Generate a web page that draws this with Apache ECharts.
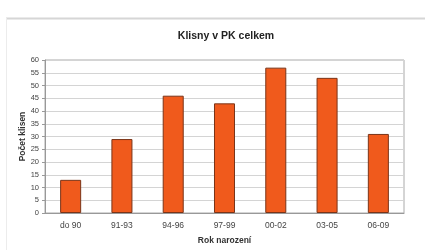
<!DOCTYPE html>
<html lang="cs">
<head>
  <meta charset="UTF-8">
  <title>Klisny v PK celkem</title>
  <script src="https://cdn.jsdelivr.net/npm/echarts@6/dist/echarts.min.js"></script>
  <style>
    body { margin: 0; padding: 0; background: #fff; }
    #chart { width: 425px; height: 250px; }
  </style>
</head>
<body>
<div id="chart"></div>
<script>
  // kategorie a hodnoty
  const categories = ['do 90', '91-93', '94-96', '97-99', '00-02', '03-05', '06-09'];
  const counts = [13, 29, 46, 43, 57, 53, 31];

  const chart = echarts.init(document.getElementById('chart'));

  const option = {
    animation: false,
    title: {
      text: 'Klisny v PK celkem',
      left: 221,
      top: 26,
      textAlign: 'center',
      textStyle: { fontFamily: 'Liberation Sans', fontSize: 10.5, fontWeight: 'bold', color: '#222' }
    },
    // ramecek okolo grafu
    graphic: [
      { type: 'line', shape: { x1: 6, y1: 18.5, x2: 425, y2: 18.5 }, style: { stroke: '#d6d6d6', lineWidth: 2 } },
      { type: 'line', shape: { x1: 6.5, y1: 18, x2: 6.5, y2: 250 }, style: { stroke: '#ececec', lineWidth: 1 } }
    ],
    grid: {
      left: 45, right: 21, top: 60, bottom: 36,
      show: true, borderColor: '#aaa', borderWidth: 1
    },
    xAxis: {
      type: 'category',
      data: categories,
      name: 'Rok narození',
      nameLocation: 'middle',
      nameGap: 23,
      nameTextStyle: { fontFamily: 'Liberation Sans', fontSize: 8.5, fontWeight: 'bold', color: '#333' },
      axisLine: { lineStyle: { color: '#999' } },
      axisTick: { show: false },
      axisLabel: { fontFamily: 'Liberation Sans', fontSize: 8.5, color: '#444', margin: 8 }
    },
    yAxis: {
      type: 'value',
      min: 0, max: 60, interval: 5,
      name: 'Počet klisen',
      nameLocation: 'middle',
      nameGap: 18,
      nameMoveOverlap: false,
      nameTextStyle: { fontFamily: 'Liberation Sans', fontSize: 8.5, fontWeight: 'bold', color: '#333' },
      axisLine: { show: true, lineStyle: { color: '#999' } },
      axisTick: { show: true, length: 3, lineStyle: { color: '#999' } },
      axisLabel: { fontFamily: 'Liberation Sans', fontSize: 7.5, color: '#444', margin: 6 },
      splitLine: { lineStyle: { color: '#d4d4d4' } }
    },
    series: [{
      type: 'bar',
      data: counts,
      barWidth: '41%',
      itemStyle: { color: '#f05a1c', borderColor: '#7a3418', borderWidth: 1 }
    }]
  };

  chart.setOption(option);
</script>
</body>
</html>
